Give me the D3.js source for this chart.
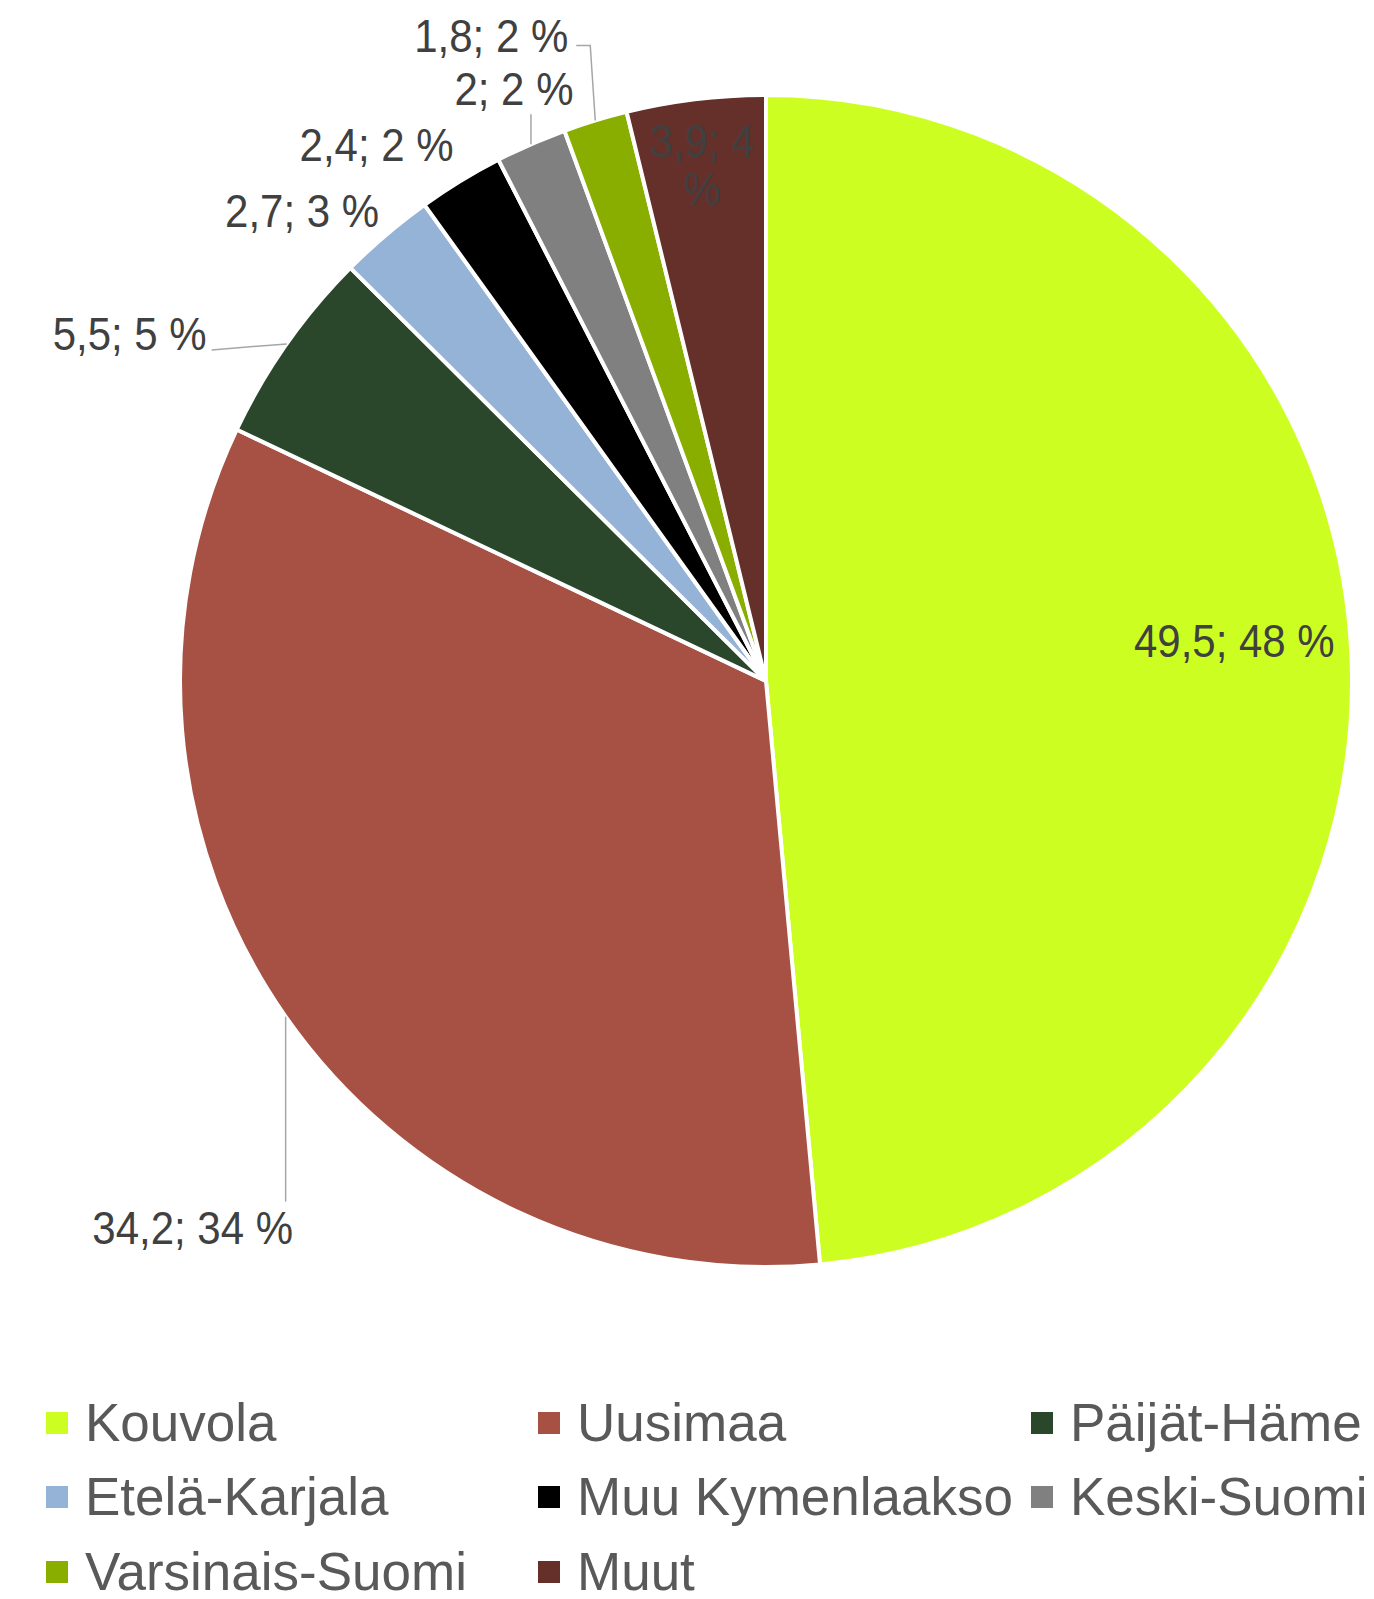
<!DOCTYPE html>
<html>
<head>
<meta charset="utf-8">
<script src="https://cdn.jsdelivr.net/npm/d3@7"></script>
<style>
  body { margin: 0; background: #fff; }
  svg { display: block; font-family: "Liberation Sans", Arial, sans-serif; }
</style>
</head>
<body>
<svg id="chart" width="1374" height="1599"></svg>
<script>
// Chart data
const regions = ['Kouvola', 'Uusimaa', 'Päijät-Häme', 'Etelä-Karjala', 'Muu Kymenlaakso', 'Keski-Suomi', 'Varsinais-Suomi', 'Muut'];
const values = [49.5, 34.2, 5.5, 2.7, 2.4, 2, 1.8, 3.9];
const percents = [48, 34, 5, 3, 2, 2, 2, 4];
const colors = ['#CCFF21', '#A65143', '#2A472C', '#95B3D7', '#000000', '#808080', '#8AAE00', '#652F2A'];

// Label layout: offsets from the slice's outer mid point (or inside point)
const labelLayout = [
  { inside: 0.8, anchor: 'middle', dx: 0, dy: -2 },
  { anchor: 'middle', dx: -93, dy: 227, leader: [[0, 185]] },
  { anchor: 'end', dx: -80, dy: 6, leader: [[-75, 6]] },
  { anchor: 'end', dx: -7, dy: -8 },
  { anchor: 'end', dx: -7, dy: -20 },
  { anchor: 'middle', dx: -17, dy: -39, leader: [[0, -30]] },
  { anchor: 'end', dx: -27, dy: -68, leader: [[-5, -75], [-19, -75]] },
  { inside: 0.88, anchor: 'middle', dx: -2, dy: -12, wrap: true },
];

const svg = d3.select('#chart');
const cx = 766;
const cy = 681;
const radius = 586;

const fmtNum = (v) => String(v).replace('.', ',');

const pie = d3.pie().sort(null).value((d) => d)(values);
const arc = d3.arc().innerRadius(0).outerRadius(radius);

const chart = svg.append('g').attr('transform', `translate(${cx},${cy})`);

// Slices
chart.selectAll('.slice')
  .data(pie)
  .enter().append('path')
  .attr('class', 'slice')
  .attr('d', arc)
  .attr('fill', (d, i) => colors[i])
  .attr('stroke', '#fff')
  .attr('stroke-width', 4)
  .attr('stroke-linejoin', 'round');

// Data labels
pie.forEach((d, i) => {
  const lay = labelLayout[i];
  const mid = (d.startAngle + d.endAngle) / 2;
  const r = lay.inside ? radius * lay.inside : radius;
  const px = r * Math.sin(mid);
  const py = -r * Math.cos(mid);

  if (lay.leader) {
    const pts = [[px, py]].concat(lay.leader.map((p) => [px + p[0], py + p[1]]));
    chart.append('path')
      .attr('d', d3.line()(pts))
      .attr('fill', 'none')
      .attr('stroke', '#A6A6A6')
      .attr('stroke-width', 1.5);
  }

  const lines = lay.wrap
    ? [`${fmtNum(values[i])}; ${percents[i]}`, '%']
    : [`${fmtNum(values[i])}; ${percents[i]} %`];

  lines.forEach((t, k) => {
    chart.append('text')
      .attr('transform', `translate(${px + lay.dx},${py + lay.dy + k * 48}) scale(1,1.1)`)
      .attr('text-anchor', lay.anchor)
      .attr('font-size', 42)
      .attr('fill', '#404040')
      .text(t);
  });
});

// Legend
const legend = svg.append('g').attr('class', 'legend');
const colX = d3.scaleOrdinal().domain([0, 1, 2]).range([46, 538, 1031]);
const rowY = d3.scaleOrdinal().domain([0, 1, 2]).range([1423, 1497, 1572]);

regions.forEach((name, i) => {
  const col = i % 3;
  const row = Math.floor(i / 3);
  const g = legend.append('g')
    .attr('transform', `translate(${colX(col)},${rowY(row)})`);
  g.append('rect')
    .attr('x', 0)
    .attr('y', -11)
    .attr('width', 22)
    .attr('height', 22)
    .attr('fill', colors[i]);
  g.append('text')
    .attr('x', 39)
    .attr('y', 18)
    .attr('font-size', 53)
    .attr('fill', '#595959')
    .text(name);
});
</script>
</body>
</html>
